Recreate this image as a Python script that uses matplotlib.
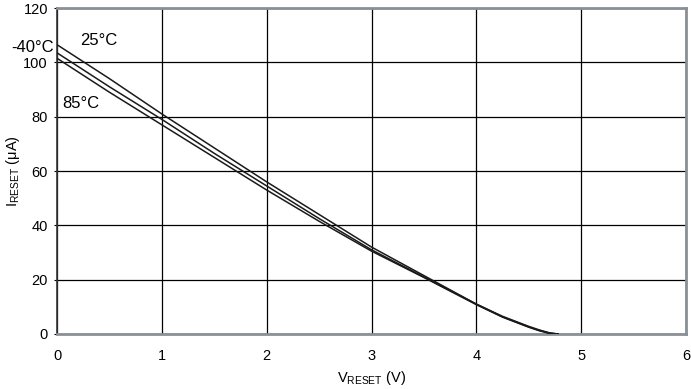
import matplotlib
matplotlib.use("Agg")
import matplotlib.pyplot as plt

plt.rcParams['font.family'] = ['Liberation Sans', 'DejaVu Sans']
plt.rcParams['mathtext.fontset'] = 'custom'
plt.rcParams['mathtext.rm'] = 'Liberation Sans'

# V_RESET (V) vs I_RESET (uA)
v_reset = [0, 0.5, 1, 1.5, 2, 2.5, 3, 3.5, 4, 4.25, 4.5, 4.6, 4.7, 4.78]
i_25c = [106.5, 94, 81, 68.5, 56, 44, 32, 21.5, 11, 6.5, 2.8, 1.5, 0.4, 0]
i_m40c = [103.5, 91, 79, 66.5, 54.5, 42.5, 31, 21, 11, 6.3, 2.6, 1.3, 0.3, 0]
i_85c = [101.5, 89, 77, 65, 53, 41.5, 30.5, 20.8, 10.8, 6.2, 2.5, 1.2, 0.2, 0]

x_ticks = [0, 1, 2, 3, 4, 5, 6]
y_ticks = [0, 20, 40, 60, 80, 100, 120]

fig = plt.figure(figsize=(6.91, 3.89), dpi=100)
ax = fig.add_axes([0.0825, 0.1414, 0.9103, 0.838])

for series in (i_25c, i_m40c, i_85c):
    ax.plot(v_reset, series, color='#1a1a1a', lw=1.1, zorder=3)

ax.set_xlim(0, 6)
ax.set_ylim(0, 120)
ax.set_xticks(x_ticks)
ax.set_yticks(y_ticks)
ax.grid(True, color='black', lw=0.9)
ax.set_axisbelow(True)

for s in ax.spines.values():
    s.set_color('#8a9096')
    s.set_linewidth(2)
ax.spines['left'].set_color('#333333')
ax.spines['left'].set_linewidth(1.2)

ax.tick_params(axis='x', length=0, pad=11, labelsize=10.5)
ax.tick_params(axis='y', length=2.5, pad=4, labelsize=10.5)

ax.set_xlabel(r'V$_{\mathregular{RESET}}$ (V)', fontsize=10.5, labelpad=4)
ax.set_ylabel(r'I$_{\mathregular{RESET}}$ ($\mathregular{\mu}$A)', fontsize=10.5, labelpad=1)

ax.text(0.22, 108, '25°C', fontsize=12, ha='left', va='center')
ax.text(0.05, 85, '85°C', fontsize=12, ha='left', va='center')
ax.text(-0.03, 105.5, '-40°C', fontsize=12, ha='right', va='center', clip_on=False)

fig.savefig('out.png', dpi=100)
